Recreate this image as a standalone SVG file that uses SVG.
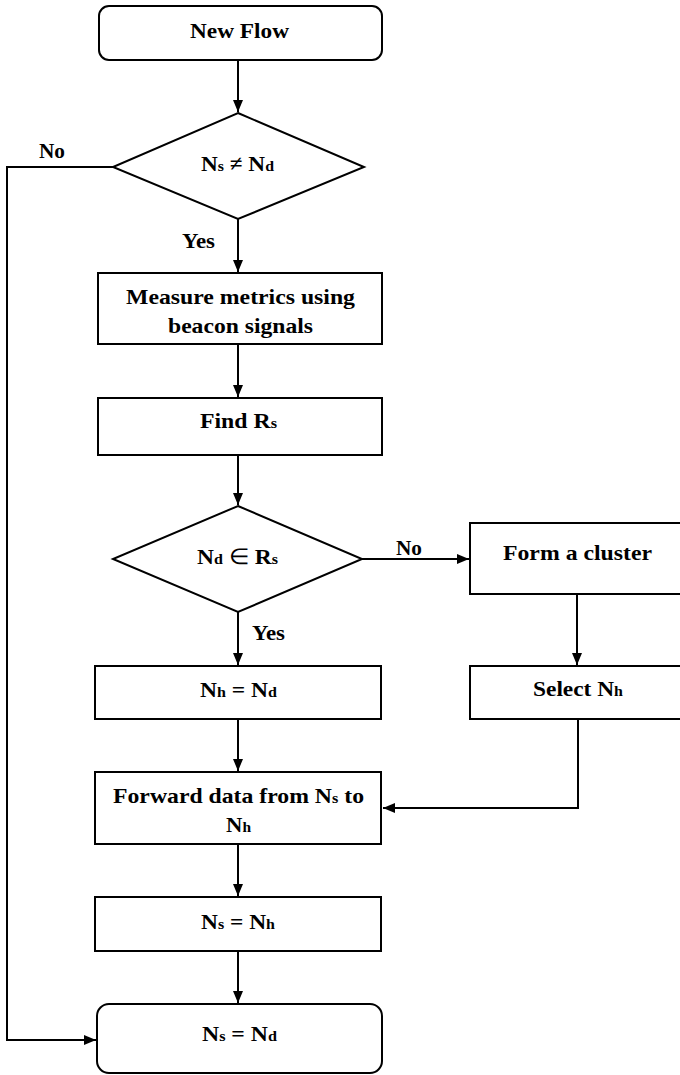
<svg xmlns="http://www.w3.org/2000/svg" width="680" height="1075" viewBox="0 0 680 1075">
<style>
.box{fill:#fff;stroke:#000;stroke-width:2}
.t{font-family:"Liberation Serif","Times New Roman",serif;font-weight:bold;font-size:22px;fill:#000;text-anchor:middle}
.lbl{font-family:"Liberation Serif","Times New Roman",serif;font-weight:bold;font-size:21px;fill:#000}
.sub{font-size:15px}
.sym{font-weight:normal}
.c{fill:none;stroke:#000;stroke-width:2}
</style>
<defs>
<marker id="ah" viewBox="0 0 12 10" refX="12" refY="5" markerWidth="12" markerHeight="10" markerUnits="userSpaceOnUse" orient="auto">
<path d="M0,0 L12,5 L0,10 Z" fill="#000"/>
</marker>
</defs>
<rect width="680" height="1075" fill="#fff"/>
<g id="connectors">
<path class="c" d="M238,60 V112" marker-end="url(#ah)"/>
<path class="c" d="M238,219 V272" marker-end="url(#ah)"/>
<path class="c" d="M238,344 V397" marker-end="url(#ah)"/>
<path class="c" d="M238,455 V505" marker-end="url(#ah)"/>
<path class="c" d="M238,612 V665" marker-end="url(#ah)"/>
<path class="c" d="M362,559 H469" marker-end="url(#ah)"/>
<path class="c" d="M577,594 V665" marker-end="url(#ah)"/>
<path class="c" d="M238,719 V771" marker-end="url(#ah)"/>
<path class="c" d="M578,719 V808 H383" marker-end="url(#ah)"/>
<path class="c" d="M238,844 V896" marker-end="url(#ah)"/>
<path class="c" d="M238,951 V1003" marker-end="url(#ah)"/>
<path class="c" d="M113,167 H7 V1040 H96" marker-end="url(#ah)"/>
<text class="lbl" x="39" y="158" textLength="26" lengthAdjust="spacingAndGlyphs">No</text>
<text class="lbl" x="182" y="248" textLength="33" lengthAdjust="spacingAndGlyphs">Yes</text>
<text class="lbl" x="396" y="555" textLength="26" lengthAdjust="spacingAndGlyphs">No</text>
<text class="lbl" x="252" y="640" textLength="33" lengthAdjust="spacingAndGlyphs">Yes</text>
</g>
<g id="new-flow">
<rect class="box" x="99" y="6" width="283" height="54" rx="10"/>
<text class="t" x="239.5" y="38" textLength="99" lengthAdjust="spacingAndGlyphs">New Flow</text>
</g>
<g id="decision-ns-nd">
<polygon class="box" points="238,113 364,167 238,219 113,167"/>
<text class="t" x="237.5" y="171" textLength="73" lengthAdjust="spacingAndGlyphs">N<tspan class="sub">s</tspan> ≠ N<tspan class="sub">d</tspan></text>
</g>
<g id="measure">
<rect class="box" x="98" y="273" width="284" height="71"/>
<text class="t" x="240.5" y="304" textLength="229" lengthAdjust="spacingAndGlyphs">Measure metrics using</text>
<text class="t" x="240.5" y="333" textLength="145" lengthAdjust="spacingAndGlyphs">beacon signals</text>
</g>
<g id="find-rs">
<rect class="box" x="98" y="398" width="284" height="57"/>
<text class="t" x="238.5" y="428" textLength="77" lengthAdjust="spacingAndGlyphs">Find R<tspan class="sub">s</tspan></text>
</g>
<g id="decision-nd-in-rs">
<polygon class="box" points="238,506 362,559 238,612 113,559"/>
<text class="t" x="237.5" y="564" textLength="81" lengthAdjust="spacingAndGlyphs">N<tspan class="sub">d</tspan>  <tspan class="sym">∈</tspan> R<tspan class="sub">s</tspan></text>
</g>
<g id="form-cluster">
<rect class="box" x="470" y="523" width="216" height="71"/>
<text class="t" x="577.5" y="560" textLength="149" lengthAdjust="spacingAndGlyphs">Form a cluster</text>
</g>
<g id="nh-eq-nd">
<rect class="box" x="95" y="666" width="286" height="53"/>
<text class="t" x="238.5" y="697" textLength="77" lengthAdjust="spacingAndGlyphs">N<tspan class="sub">h</tspan> = N<tspan class="sub">d</tspan></text>
</g>
<g id="select-nh">
<rect class="box" x="470" y="666" width="216" height="53"/>
<text class="t" x="578" y="696" textLength="90" lengthAdjust="spacingAndGlyphs">Select N<tspan class="sub">h</tspan></text>
</g>
<g id="forward">
<rect class="box" x="95" y="772" width="286" height="72"/>
<text class="t" x="238.5" y="803" textLength="251" lengthAdjust="spacingAndGlyphs">Forward data from N<tspan class="sub">s</tspan> to</text>
<text class="t" x="238.5" y="832" textLength="25" lengthAdjust="spacingAndGlyphs">N<tspan class="sub">h</tspan></text>
</g>
<g id="ns-eq-nh">
<rect class="box" x="95" y="897" width="286" height="54"/>
<text class="t" x="238" y="929" textLength="74" lengthAdjust="spacingAndGlyphs">N<tspan class="sub">s</tspan> = N<tspan class="sub">h</tspan></text>
</g>
<g id="ns-eq-nd">
<rect class="box" x="97" y="1004" width="285" height="69" rx="12"/>
<text class="t" x="239.5" y="1041" textLength="75" lengthAdjust="spacingAndGlyphs">N<tspan class="sub">s</tspan> = N<tspan class="sub">d</tspan></text>
</g>
</svg>
